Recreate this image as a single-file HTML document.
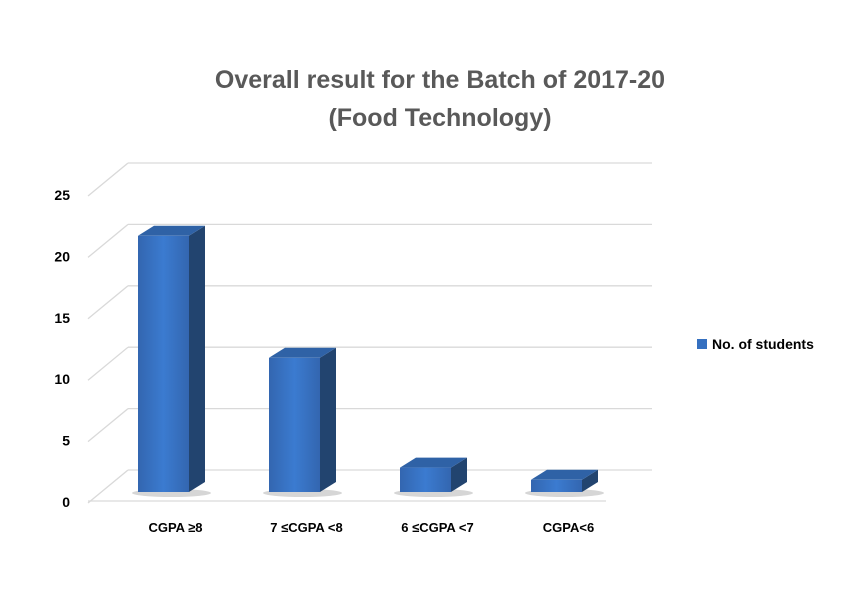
<!DOCTYPE html>
<html><head><meta charset="utf-8"><style>
body{margin:0;background:#fff;}
svg text{font-family:"Liberation Sans",sans-serif;}
</style></head><body>
<svg width="860" height="597" viewBox="0 0 860 597">
<defs>
<linearGradient id="front" x1="0" y1="0" x2="1" y2="0">
<stop offset="0" stop-color="#3366b0"/><stop offset="0.5" stop-color="#3b7bd0"/><stop offset="1" stop-color="#3366b0"/></linearGradient>
</defs>
<text x="440" y="88" text-anchor="middle" font-size="25" font-weight="bold" fill="#595959">Overall result for the Batch of 2017-20</text>
<text x="440" y="126" text-anchor="middle" font-size="25" font-weight="bold" fill="#595959">(Food Technology)</text>
<g id="grid"></g>
<g id="bars"></g>
<g id="labels"></g>
<rect x="697" y="339" width="10" height="10" fill="#3570c0"/>
<text x="712" y="349" font-size="14" font-weight="bold" fill="#000">No. of students</text>
</svg>
<script>
const categories=["CGPA \u22658","7 \u2264CGPA <8","6 \u2264CGPA <7","CGPA<6"];
const values=[21,11,2,1];
const ticks=[0,5,10,15,20,25];
const NS="http://www.w3.org/2000/svg";
const base=492, unit=12.2, dx=16, dy=10;
function y(v){return base-v*unit;}
function mk(t,a,p){const e=document.createElementNS(NS,t);for(const k in a)e.setAttribute(k,a[k]);p.appendChild(e);return e;}
const grid=document.getElementById('grid'),bars=document.getElementById('bars'),labels=document.getElementById('labels');
ticks.forEach(t=>{
 const yb=470-t*12.28, yf=yb+33;
 const g=mk('g',{},grid);
 
 
 mk('line',{x1:128,y1:yb,x2:652,y2:yb,stroke:'#d9d9d9','stroke-width':1.3},g);
 mk('line',{x1:88,y1:yf,x2:128,y2:yb,stroke:'#d9d9d9','stroke-width':1.3},g);
 const tx=mk('text',{x:70,y:yf+4,'text-anchor':'end','font-size':14,'font-weight':'bold',fill:'#000'},labels);
 
 
 tx.textContent=t;
});
mk('line',{x1:88,y1:501,x2:606,y2:501,stroke:'#d9d9d9','stroke-width':1.3},grid);
categories.forEach((c,i)=>{
 const x0=138+i*131, w=51, yt=y(values[i]);
 const g=mk('g',{},bars);
 
 
 mk('ellipse',{cx:x0+w/2+8,cy:base+1,rx:w/2+14,ry:4,fill:'#bbb',opacity:0.6},g);
 mk('polygon',{points:`${x0+w},${yt} ${x0+w+dx},${yt-dy} ${x0+w+dx},${base-dy} ${x0+w},${base}`,fill:'#22446f'},g);
 mk('polygon',{points:`${x0},${yt} ${x0+dx},${yt-dy} ${x0+w+dx},${yt-dy} ${x0+w},${yt}`,fill:'#2f62a6'},g);
 mk('rect',{x:x0,y:yt,width:w,height:base-yt,fill:'url(#front)'},g);
 const tx=mk('text',{x:x0+w/2+12,y:532,'text-anchor':'middle','font-size':13,'font-weight':'bold',fill:'#000'},labels);
 
 
 tx.textContent=c;
});
</script>
</body></html>
